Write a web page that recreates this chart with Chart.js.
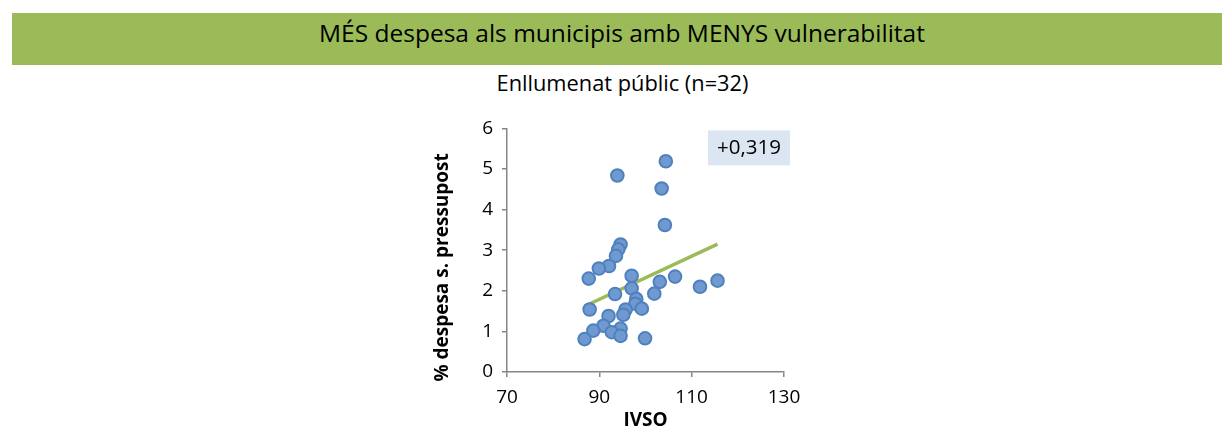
<!DOCTYPE html>
<html>
<head>
<meta charset="utf-8">
<script src="https://cdn.jsdelivr.net/npm/chart.js@4/dist/chart.umd.min.js"></script>
<style>
  html, body { margin: 0; padding: 0; background: #fff; }
  body { width: 1222px; height: 432px; position: relative; overflow: hidden; font-family: "Open Sans", sans-serif; }
  #banner {
    position: absolute; left: 12px; top: 13px; width: 1210px; height: 52px;
    background: #9bbb59; color: #000; font-size: 24.5px; line-height: 40px; text-align: center;
  }
  #banner span { position: relative; left: 5px; }
  #subtitle {
    position: absolute; left: 0; top: 68px; width: 1245px; text-align: center;
    font-size: 21.8px; color: #000;
  }
  #chartBox { position: absolute; left: 420px; top: 108px; width: 400px; height: 324px; }
</style>
</head>
<body>
<div id="banner"><span>MÉS despesa als municipis amb MENYS vulnerabilitat</span></div>
<div id="subtitle">Enllumenat públic (n=32)</div>
<div id="chartBox"><canvas id="scatterCanvas"></canvas></div>
<script>
// IVSO index per municipality
const ivso = [93.9, 104.4, 103.5, 104.2, 94.6, 94.1, 93.6, 92.1, 89.9, 87.7,
  97.0, 106.4, 103.1, 115.6, 111.8, 97.0, 93.4, 101.9, 98.0, 97.8,
  99.2, 87.9, 95.7, 95.2, 92.0, 90.9, 88.7, 94.6, 92.7, 94.6, 86.8, 99.9];
// % of budget spent on public lighting
const despesa = [4.84, 5.19, 4.52, 3.62, 3.14, 3.02, 2.86, 2.61, 2.55, 2.30,
  2.37, 2.35, 2.22, 2.25, 2.10, 2.06, 1.92, 1.93, 1.80, 1.68,
  1.56, 1.54, 1.54, 1.41, 1.38, 1.14, 1.02, 1.07, 0.98, 0.89, 0.81, 0.83];
// linear trend endpoints
const trendX = [86.8, 115.6];
const trendY = [1.62, 3.15];
const xTicks = [70, 90, 110, 130];
const yTicks = [0, 1, 2, 3, 4, 5, 6];
const correlation = "+0,319";
const yTitle = "% despesa s. pressupost";

const points = ivso.map((x, i) => ({ x: x, y: despesa[i] }));
const trend = trendX.map((x, i) => ({ x: x, y: trendY[i] }));

// correlation label box and the rotated y title
const extras = {
  id: "extras",
  afterDraw(chart) {
    const { ctx, chartArea } = chart;
    const left = chartArea.right - 76, top = chartArea.top + 2;
    ctx.save();
    ctx.fillStyle = "#dce6f2";
    ctx.fillRect(left, top, 82, 35);
    ctx.fillStyle = "#000";
    ctx.font = "20.5px 'Open Sans'";
    ctx.textAlign = "center";
    ctx.textBaseline = "middle";
    ctx.fillText(correlation, left + 41, top + 18);

    ctx.translate(chartArea.left - 64, chartArea.top + 139);
    ctx.rotate(-Math.PI / 2);
    ctx.font = "bold 19px 'Open Sans'";
    ctx.fillText(yTitle, 0, 0);
    ctx.restore();
  }
};

const axisGrid = { drawOnChartArea: false, drawTicks: true, tickLength: 5, color: "#868686", lineWidth: 1.5 };
const tickFont = { family: "Open Sans", size: 19 };

new Chart(document.getElementById("scatterCanvas"), {
  type: "scatter",
  data: {
    datasets: [
      {
        data: trend,
        type: "line",
        borderColor: "#9bbb59",
        borderWidth: 3.5,
        pointRadius: 0,
        fill: false,
        order: 1
      },
      {
        data: points,
        backgroundColor: "#7099d2",
        borderColor: "#4f81bd",
        borderWidth: 2,
        pointRadius: 6.3,
        order: 0
      }
    ]
  },
  options: {
    responsive: true,
    maintainAspectRatio: false,
    animation: false,
    layout: { padding: { top: 18, right: 36, left: 0, bottom: 0 } },
    plugins: { legend: { display: false }, tooltip: { enabled: false } },
    scales: {
      x: {
        type: "linear", min: 70, max: 130,
        afterBuildTicks: (s) => { s.ticks = xTicks.map((v) => ({ value: v })); },
        afterFit: (s) => { s.height = 60; },
        grid: axisGrid,
        border: { color: "#868686", width: 1.5 },
        ticks: { color: "#000", font: tickFont, padding: 9 },
        title: { display: true, text: "IVSO", color: "#000", font: { family: "Open Sans", size: 19, weight: "bold" }, padding: { top: 0, bottom: 0 } }
      },
      y: {
        type: "linear", min: 0, max: 6,
        afterBuildTicks: (s) => { s.ticks = yTicks.map((v) => ({ value: v })); },
        afterFit: (s) => { s.width = 87; },
        grid: axisGrid,
        border: { color: "#868686", width: 1.5 },
        ticks: { color: "#000", font: tickFont, padding: 9 }
      }
    }
  },
  plugins: [extras]
});
</script>
</body>
</html>
